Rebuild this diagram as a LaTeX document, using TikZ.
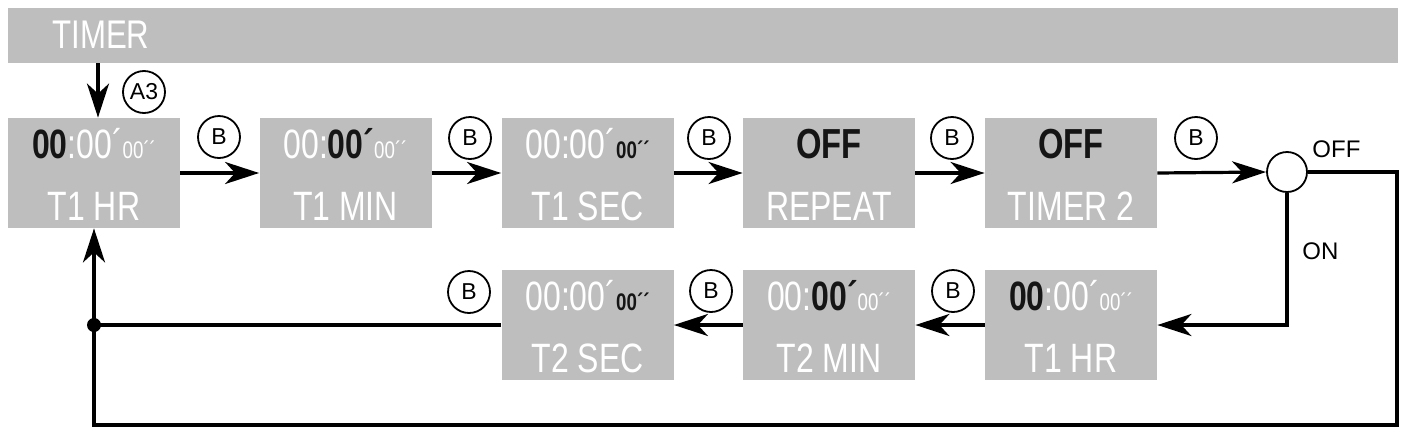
\documentclass[tikz,border=0pt]{standalone}
\usepackage{fontspec}
\setmainfont{Liberation Sans}
\newfontfamily\lcdfont[FakeStretch=0.78]{Liberation Sans}
\usetikzlibrary{arrows.meta,positioning}
\definecolor{panelgray}{HTML}{BEBEBE}
\definecolor{ink}{HTML}{151515}

% digit parts: lit (black bold) and small seconds
\newcommand{\hot}[1]{{\bfseries\color{ink}#1}}
\newcommand{\secs}[1]{{\fontsize{12}{12}\selectfont #1}}
\newcommand{\lcd}[4]{%
  \node[lcdbox] (#1) at (#2) {};
  \node[lcdtext] at ([yshift=-20.5pt]#1.north) {#3};
  \node[lcdtext] at ([yshift=-51.5pt]#1.north) {#4};
}

\begin{document}
\begin{tikzpicture}[x=0.5pt, y=-0.5pt,
    lcdbox/.style={fill=panelgray, minimum width=86pt, minimum height=55pt, inner sep=0pt},
    lcdtext/.style={anchor=base, inner sep=0pt, text=white, font=\lcdfont\fontsize{20.5}{20.5}\selectfont},
    key/.style={draw, circle, line width=0.9pt, minimum size=21pt, inner sep=0pt, font=\fontsize{11.5}{11.5}\selectfont},
    flow/.style={line width=1.6pt, -{Stealth[length=17pt,width=11pt,inset=5pt]}},
    wire/.style={line width=1.6pt}]
  \useasboundingbox (0,0) rectangle (1407,429);
  % header
  \node[fill=panelgray, minimum width=695pt, minimum height=27.5pt, inner sep=0pt] (bar) at (703,35.5) {};
  \node[lcdtext, anchor=base west, font=\lcdfont\fontsize{20}{20}\selectfont] (title) at (52,48) {TIMER};

  % first row
  \lcd{hr1}{94,173}{\hot{00}:00´\secs{00´´}}{T1 HR}
  \lcd{min1}{345.5,173}{00:\hot{00´}\secs{00´´}}{T1 MIN}
  \lcd{sec1}{587.5,173}{00:00´\secs{\hot{00´´}}}{T1 SEC}
  \lcd{rep}{829,173}{\hot{\fontsize{21}{21}\selectfont OFF}}{REPEAT}
  \lcd{tmr2}{1071,173}{\hot{\fontsize{21}{21}\selectfont OFF}}{TIMER 2}
  % second row
  \lcd{hr2}{1071,325}{\hot{00}:00´\secs{00´´}}{T1 HR}
  \lcd{min2}{829,325}{00:\hot{00´}\secs{00´´}}{T2 MIN}
  \lcd{sec2}{587.5,325}{00:00´\secs{\hot{00´´}}}{T2 SEC}

  \node[draw, circle, line width=0.9pt, minimum size=20pt, inner sep=0pt] (fork) at (1287,172) {};
  \node[anchor=base west, inner sep=0pt, font=\fontsize{12}{12}\selectfont] (offlbl) at (1312,157) {OFF};
  \node[anchor=base west, inner sep=0pt, font=\fontsize{12}{12}\selectfont] (onlbl) at (1302,259) {ON};
  \coordinate (se) at (1397,425);

  % buttons
  \node[key] (a3) at (144,92) {A3};
  \foreach \x/\y [count=\i] in {219/137, 470/138, 709/138, 952/138, 1196/138,
                                953/291, 711/291, 469/292}
    \node[key] (key\i) at (\x,\y) {B};

  % connectors
  \draw[flow] ([xshift=2pt]hr1.north |- bar.south) -- ([xshift=2pt]hr1.north);
  \draw[flow] (hr1.east) -- (min1.west);
  \draw[flow] (min1.east) -- (sec1.west);
  \draw[flow] (sec1.east) -- (rep.west);
  \draw[flow] (rep.east) -- (tmr2.west);
  \draw[flow] (tmr2.east) -- (fork.west);
  \draw[flow] (fork.east) -| (se) -| (hr1.south);
  \draw[flow] (fork.south) |- (hr2.east);
  \draw[flow] (hr2.west) -- (min2.east);
  \draw[flow] (min2.west) -- (sec2.east);
  \coordinate (join) at (sec2.west -| hr1.south);
  \draw[wire] (sec2.west) -- (join);
  \fill (join) circle (3.5pt);
\end{tikzpicture}
\end{document}
